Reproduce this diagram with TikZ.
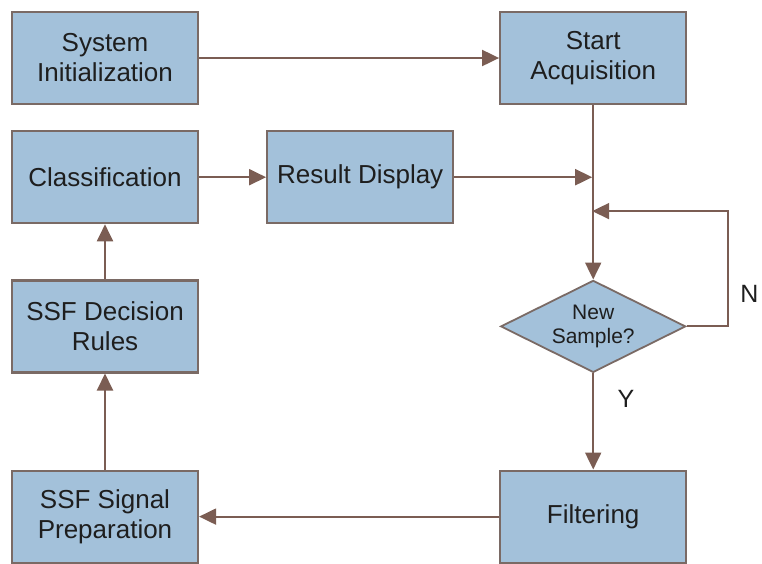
\documentclass[tikz,border=0pt]{standalone}
\usepackage{fontspec}
\setmainfont{Liberation Sans}
\usepackage{tikz}
\usetikzlibrary{arrows.meta,positioning,shapes.geometric}

\definecolor{boxfill}{HTML}{A3C1DA}
\definecolor{boxline}{HTML}{7A6A65}
\definecolor{flowline}{HTML}{7B5D53}
\definecolor{boxtext}{HTML}{1E1E1E}

\begin{document}
\begin{tikzpicture}[x=1pt, y=-1pt, >={Triangle[length=17pt,width=16pt]},
    block/.style={rectangle, draw=boxline, line width=2.2pt, fill=boxfill,
        minimum width=186pt, minimum height=92pt, align=center,
        text=boxtext, font=\fontsize{26}{30}\selectfont},
    decision/.style={diamond, shape aspect=2, draw=boxline, line width=1.8pt,
        fill=boxfill, minimum width=185pt, minimum height=92pt, inner sep=0pt,
        align=center, text=boxtext, font=\fontsize{21}{24}\selectfont},
    flow/.style={draw=flowline, line width=2pt},
    tag/.style={text=boxtext, font=\fontsize{25}{28}\selectfont}]
    \useasboundingbox (0,0) rectangle (762,563);

    % Blocks {init, acq, classif, result, rules, prep, filter}
    \node [block]   (init)    at (105,58)          {System\\Initialization};
    \node [block]   (acq)     [right=300pt of init] {Start\\Acquisition};
    \node [block]   (classif) [below=25pt of init] {Classification};
    \node [block]   (result)  [right=67pt of classif] {Result Display};
    \node [block]   (rules)   [below=55pt of classif] {SSF Decision\\Rules};
    \node [block]   (prep)    [below=96pt of rules] {SSF Signal\\Preparation};
    \node [block]   (filter)  [right=300pt of prep] {Filtering};
    \node [decision] (newsample) at (acq |- rules) {New\\Sample?};

    % Helper points on the loop
    \coordinate (merge)  at (acq |- result);
    \coordinate [below=106pt of acq.south] (joint);
    \coordinate [right=41pt of newsample.east] (nright);

    % Paths
    \path [flow, ->] (init) -- (acq);
    \path [flow, ->] (acq) -- (newsample);
    \path [flow, ->] (classif) -- (result);
    \path [flow, ->, shorten >=1pt] (result) -- (merge);
    \path [flow, ->, shorten >=-2pt] (newsample.east) -- (nright) |- ([xshift=1pt]joint);
    \path [flow, ->] (newsample) -- node [tag, right=20pt, pos=0.27] {Y} (filter);
    \path [flow, ->] (filter) -- (prep);
    \path [flow, ->] (prep) -- (rules);
    \path [flow, ->] (rules) -- (classif);

    \node [tag, anchor=east] (nolabel) at (762,294) {N};
\end{tikzpicture}
\end{document}
